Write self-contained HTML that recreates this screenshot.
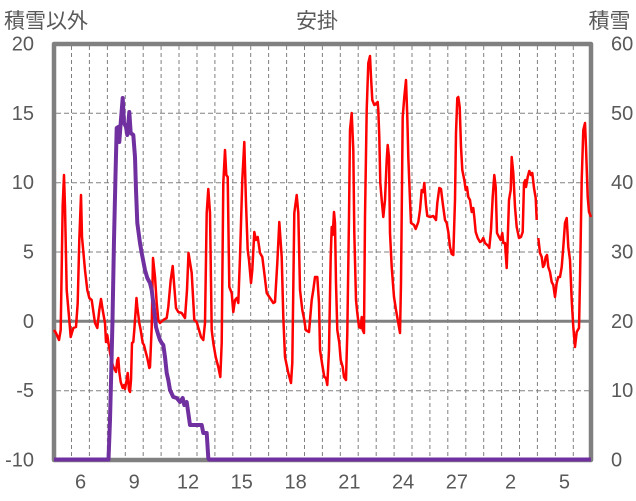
<!DOCTYPE html>
<html><head><meta charset="utf-8"><style>
html,body{margin:0;padding:0;background:#fff;}
svg{display:block;}
text{font-family:"Liberation Sans","Noto Sans CJK JP",sans-serif;fill:#595959;}
</style></head><body>
<svg width="636" height="501" viewBox="0 0 636 501" xmlns="http://www.w3.org/2000/svg">
<rect x="0" y="0" width="636" height="501" fill="#fff"/>
<!-- vertical dashed grid -->
<path d="M71.5 46V458M89.4 46V458M107.4 46V458M125.3 46V458M143.2 46V458M161.1 46V458M179 46V458M197 46V458M214.9 46V458M232.8 46V458M250.7 46V458M268.6 46V458M286.6 46V458M304.5 46V458M322.4 46V458M340.3 46V458M358.2 46V458M376.2 46V458M394.1 46V458M412 46V458M429.9 46V458M447.8 46V458M465.8 46V458M483.7 46V458M501.6 46V458M519.5 46V458M537.4 46V458M555.4 46V458M573.3 46V458" stroke="#808080" stroke-width="1" stroke-dasharray="4 3" fill="none"/>
<!-- horizontal dashed grid -->
<path d="M56 113.3H589M56 182.7H589M56 252H589M56 390.7H589" stroke="#808080" stroke-width="1" stroke-dasharray="5 3" fill="none"/>
<!-- zero line -->
<line x1="56" y1="321.3" x2="589" y2="321.3" stroke="#808080" stroke-width="3"/>
<!-- frame -->
<rect x="54" y="44" width="537" height="416" fill="none" stroke="#808080" stroke-width="4.5" stroke-linejoin="round"/>
<!-- red series -->
<polyline fill="none" stroke="#ff0000" stroke-width="2.5" stroke-linejoin="round" points="54,330 56,333 59,340 60.7,330 62.7,205 64,175 65,207 66.7,290 69.3,320 70.7,337 73.3,328 76,327 77.7,303 79.3,240 81,195 82,237 85,270 87.3,290 89.3,298 91.7,300 95,323 97.3,328 99.3,310 101,299 102.7,310 105,323 106,342 107.3,335 108.3,342 110.7,357 113,366 116,372 117.3,360 118.3,358 119.3,372 120.7,382 122.7,388 124,385 125,389 126.7,380 127.7,373 129,390 130,392 131,380 132,343 133.3,342 134.3,330 135.7,310 136.5,298 137.3,307 139.3,323 140.7,330 142.7,343 144,345 145.7,352 147.3,358 149.3,368 150,367 151.7,327 153,258 155,277 156.7,303 158.3,320 160,323 163.3,320 166.7,318 168.3,307 170.7,280 172.7,266 174,283 176,308 178.3,312 181.7,313 185,318 187,290 188.5,253 191.7,273 194.3,320 196.7,322 199,330 201,337 203.3,340 205,323 206.7,213 208.3,189 210,213 211.7,330 213.3,343 215.7,357 218.3,367 220.3,377 221.7,343 223.3,183 225,150 226.3,175 227.7,177 229.3,287 231.7,293 233.3,312 235,300 236.7,298 238.3,303 240,257 242.3,180 244.3,142 246,203 247.7,250 249,260 251,283 252.3,270 254.3,232 256,240 257.7,237 260,253 262.3,257 264.3,273 266.7,293 270,298 273.3,303 275,302 277.3,263 279.3,222 281.7,257 283.3,317 285,357 288.3,373 291,383 292.3,363 294.3,213 296.7,195 298.3,213 300,290 302.3,310 304.3,320 305.7,330 309,332 311.7,300 313.3,290 315,277 317.3,277 319,303 320,350 322.3,365 324.3,377 326,378 327.3,385 329,350 330.7,257 331.7,227 332.7,235 334,212 335,223 336,283 337.3,330 339.3,343 340.7,360 342.7,367 344,377 346,380 347.3,333 349,217 350,130 351.7,113 353.3,150 354.3,233 356,300 357.3,313 359,327 360.7,328 361.7,317 362.7,330 364,333 365,217 366.7,110 368.3,63 370,56 371,77 372.3,100 374.3,105 376.7,103 377.7,102 378.3,110 379.3,137 380.3,183 381.7,200 383.3,217 385,200 386.7,160 387.7,145 389,157 390,233 391.7,267 394,297 396,310 398.3,323 400,333 401,283 402.7,117 404.3,97 406,80 407.3,117 408.3,157 410,200 411,223 414,225 415.7,229 418.3,222 420,210 421.7,190 423.3,192 424.3,183 426,205 427.3,216 430,217 433.3,216 436,220 437.3,203 439.3,188 441,189 442.7,203 445,220 446.7,223 448.3,232 450,247 451.7,254 453.3,255 455,200 456,133 457.3,98 458.3,97 459.7,107 461,147 462.3,170 464.3,180 465.7,190 467,187 468.3,197 470,200 471.7,212 473.3,208 474.3,217 475.7,232 477.7,238 480,242 481.7,241 483.3,238 485,243 488.3,246 489.3,248 491,230 492.7,197 494.3,175 495.7,187 497,233 499,237 500.7,240 502.3,233 503.3,243 505,243 506.7,268 507.7,240 509,200 510.7,190 511.7,157 513.3,173 515,207 516.7,227 519,238 521,237 522.7,232 524,183 525.3,180 526,187 527.7,177 529.3,171 531,175 532.3,173 534,188 535.7,198 536.7,220"/>
<polyline fill="none" stroke="#ff0000" stroke-width="2.5" stroke-linejoin="round" points="538.3,238 540,253 541.7,257 543,267 544.3,265 545.7,257 547,255 548.3,267 550,272 551.7,282 553.3,285 555,297 556.7,283 558.3,277 560,277 561.7,267 563.3,247 565,223 566.7,218 568.3,247 570,260 571.7,300 573.3,327 575,347 576.7,332 579,328 580,280 581.7,180 583.3,130 585,123 586,147 587.7,197 589,212 591,217"/>
<!-- purple series -->
<polyline fill="none" stroke="#7030a0" stroke-width="4" stroke-linejoin="round" points="54,459.5 108.5,459.5 110,420 111.3,370 112.5,320 114,240 115.5,175 116.7,128 118.3,127 119.3,142 120.7,123 122.7,98 124,123 126,127 127.3,135 129.3,112 130.7,133 133.3,135 135,157 136,190 137.3,223 140,243 141.7,253 145,270 147.3,278 150,283 151.7,290 153.3,303 156,327 158.3,335 160,340 161.7,343 163.3,345 165,357 166.7,373 168.3,380 170,390 173.3,397 176.7,398 180,402 182.7,398 184.3,405 186.7,402 188.3,413 190,425 196.7,425 201.7,425 203.3,433 206.7,433 208.3,458 209,459.5 591,459.5"/>
<!-- titles -->
<text x="4" y="28" font-size="21">積雪以外</text>
<text x="317" y="28" font-size="21" text-anchor="middle">安掛</text>
<text x="588.5" y="28" font-size="21">積雪</text>
<!-- left axis labels -->
<g font-size="20" text-anchor="end">
<text x="34" y="50.5">20</text>
<text x="34" y="119.8">15</text>
<text x="34" y="189.2">10</text>
<text x="34" y="258.5">5</text>
<text x="34" y="327.8">0</text>
<text x="34" y="397.2">-5</text>
<text x="34" y="466.5">-10</text>
</g>
<!-- right axis labels -->
<g font-size="20">
<text x="611" y="50.5">60</text>
<text x="611" y="119.8">50</text>
<text x="611" y="189.2">40</text>
<text x="611" y="258.5">30</text>
<text x="611" y="327.8">20</text>
<text x="611" y="397.2">10</text>
<text x="611" y="466.5">0</text>
</g>
<!-- x labels -->
<g font-size="20" text-anchor="middle">
<text x="80.5" y="488.5">6</text>
<text x="134.2" y="488.5">9</text>
<text x="188" y="488.5">12</text>
<text x="241.8" y="488.5">15</text>
<text x="295.6" y="488.5">18</text>
<text x="349.4" y="488.5">21</text>
<text x="403.1" y="488.5">24</text>
<text x="456.9" y="488.5">27</text>
<text x="510.6" y="488.5">2</text>
<text x="564.4" y="488.5">5</text>
</g>
</svg>
</body></html>
